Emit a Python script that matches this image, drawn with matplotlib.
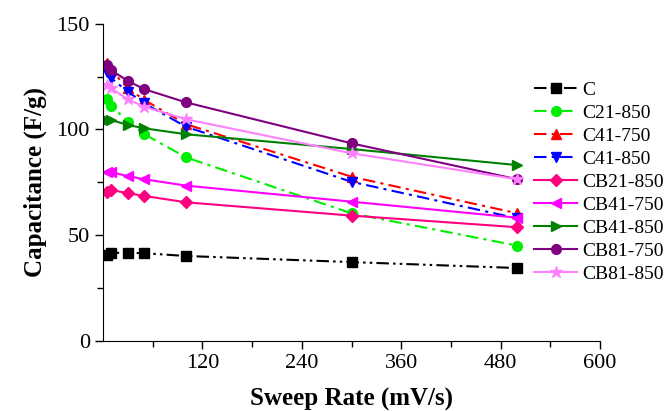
import numpy as np
import matplotlib
matplotlib.use("Agg")
import matplotlib.pyplot as plt

# sweep rates (mV/s) and specific capacitance (F/g)
rate = [5, 10, 30, 50, 100, 300, 500]

series_names = ["C", "C21-850", "C41-750", "C41-850", "CB21-850",
                "CB41-750", "CB41-850", "CB81-750", "CB81-850"]

cap_C = [40.6, 41.6, 41.6, 41.4, 40.1, 37.2, 34.4]
cap_C21_850 = [114.4, 111.2, 103.6, 97.7, 86.8, 60.3, 45.0]
cap_C41_750 = [131.3, 128.0, 119.4, 113.9, 102.5, 77.6, 60.3]
cap_C41_850 = [127.3, 124.2, 117.8, 112.3, 101.3, 75.2, 57.9]
cap_CB21_850 = [70.5, 71.3, 69.8, 68.5, 65.5, 59.2, 53.7]
cap_CB41_750 = [79.7, 79.7, 77.9, 76.4, 73.4, 65.8, 58.2]
cap_CB41_850 = [104.4, 104.4, 102.1, 100.5, 97.7, 90.7, 83.1]
cap_CB81_750 = [130.3, 128.0, 122.9, 119.0, 112.8, 93.4, 76.4]
cap_CB81_850 = [121.0, 119.4, 114.2, 110.7, 104.8, 88.7, 76.4]

all_caps = [cap_C, cap_C21_850, cap_C41_750, cap_C41_850, cap_CB21_850,
            cap_CB41_750, cap_CB41_850, cap_CB81_750, cap_CB81_850]

# style per series: colour, marker, dash pattern
dash_dd = (0, (6, 2, 1.2, 2, 1.2, 2))   # dash-dot-dot
dash_d = (0, (6, 2.5, 1.5, 2.5))         # dash-dot
styles = [
    ("#000000", "s", dash_dd),
    ("#00ee00", "o", dash_d),
    ("#ff0000", "^", dash_d),
    ("#0000ff", "v", dash_d),
    ("#ff0080", "D", "-"),
    ("#ff00ff", "<", "-"),
    ("#008000", ">", "-"),
    ("#800080", "o", "-"),
    ("#ff80ff", "*", "-"),
]

plt.rcParams["font.family"] = ["Liberation Serif", "DejaVu Serif"]

fig = plt.figure(figsize=(6.65, 4.11), dpi=100)
ax = fig.add_axes([0.1549, 0.171, 0.7474, 0.7713])

for name, cap, (col, mk, ls) in zip(series_names, all_caps, styles):
    ms = 9 if mk == "*" else 7
    if mk == "D":
        ms = 6
    ax.plot(rate, cap, color=col, marker=mk, linestyle=ls, linewidth=1.5,
            markersize=ms, markeredgecolor=col, label=name)

ax.set_xlim(0, 600)
ax.set_ylim(0, 150)
ax.set_xticks([120, 240, 360, 480, 600])
ax.set_xticks([60, 180, 300, 420, 540], minor=True)
ax.set_yticks([0, 50, 100, 150])
ax.set_yticks([25, 75, 125], minor=True)

ax.spines["top"].set_visible(False)
ax.spines["right"].set_visible(False)
ax.tick_params(which="major", direction="out", length=6, width=1, labelsize=16)
ax.tick_params(which="minor", direction="out", length=4, width=1)

ax.set_xlabel("Sweep Rate (mV/s)", fontsize=18, fontweight="bold", labelpad=11)
ax.set_ylabel("Capacitance (F/g)", fontsize=18, fontweight="bold", labelpad=7)

ax.legend(loc="upper left", bbox_to_anchor=(0.792, 0.822),
          bbox_transform=fig.transFigure, frameon=False, fontsize=14,
          handlelength=2.2, handletextpad=0.25, labelspacing=0.28,
          borderaxespad=0)

fig.savefig("out.png", dpi=100)
